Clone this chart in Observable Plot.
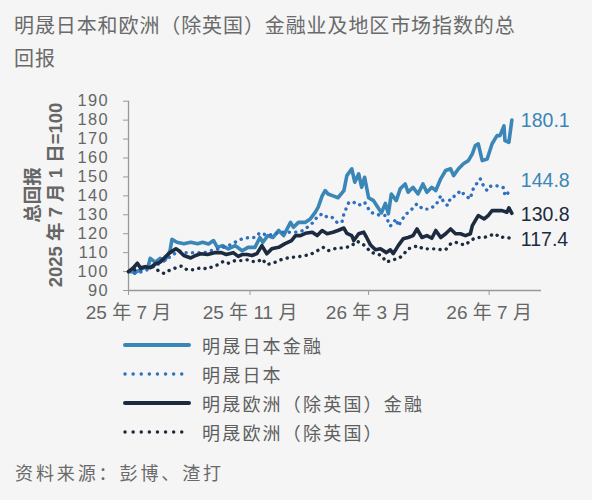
<!DOCTYPE html>
<html><head><meta charset="utf-8">
<script src="https://cdn.jsdelivr.net/npm/d3@7"></script>
<script src="https://cdn.jsdelivr.net/npm/@observablehq/plot@0.6"></script>
<style>
html,body{margin:0;padding:0;background:#f5f5f5;}
body{width:592px;height:500px;position:relative;overflow:hidden;font-family:"Liberation Sans",Arial,"Noto Sans CJK SC",sans-serif;}
#title{position:absolute;left:14px;top:8px;font-family:"Noto Sans CJK SC",sans-serif;font-size:20px;line-height:33px;color:#6a6a6a;letter-spacing:0.9px;white-space:nowrap;}
#chart{position:absolute;left:0;top:75px;}
#legend{position:absolute;left:123px;top:330px;}
.item{height:29.1px;display:flex;align-items:center;}
.item svg{display:block;}
.item span{margin-left:11px;font-family:"Noto Sans CJK SC",sans-serif;font-size:18px;letter-spacing:2.2px;color:#5e5e5e;white-space:nowrap;}
#source{position:absolute;left:15px;top:459px;font-family:"Noto Sans CJK SC",sans-serif;font-size:18px;letter-spacing:2.9px;color:#6a6a6a;white-space:nowrap;}
</style></head>
<body>
<div id="title">明晟日本和欧洲（除英国）金融业及地区市场指数的总<br>回报</div>
<div id="chart"></div>
<div id="legend"></div>
<div id="source">资料来源：彭博、渣打</div>
<script>
const seriesNames = ["明晟日本金融", "明晟日本", "明晟欧洲（除英国）金融", "明晟欧洲（除英国）"];
const endLabels = ["180.1", "144.8", "130.8", "117.4"];

const jpFinDates = ["2025-07-01","2025-07-08","2025-07-15","2025-07-21","2025-07-23","2025-07-28","2025-08-02","2025-08-07","2025-08-12","2025-08-14","2025-08-19","2025-08-26","2025-09-02","2025-09-09","2025-09-14","2025-09-20","2025-09-25","2025-09-29","2025-10-04","2025-10-10","2025-10-17","2025-10-24","2025-10-30","2025-11-06","2025-11-11","2025-11-14","2025-11-19","2025-11-24","2025-11-30","2025-12-05","2025-12-12","2025-12-15","2025-12-20","2025-12-27","2026-01-01","2026-01-06","2026-01-09","2026-01-13","2026-01-16","2026-01-19","2026-01-24","2026-01-29","2026-02-04","2026-02-07","2026-02-12","2026-02-15","2026-02-19","2026-02-22","2026-02-25","2026-03-01","2026-03-06","2026-03-09","2026-03-14","2026-03-18","2026-03-21","2026-03-24","2026-03-29","2026-04-02","2026-04-07","2026-04-10","2026-04-15","2026-04-20","2026-04-25","2026-04-29","2026-05-04","2026-05-08","2026-05-13","2026-05-18","2026-05-23","2026-05-26","2026-05-31","2026-06-05","2026-06-10","2026-06-14","2026-06-17","2026-06-20","2026-06-24","2026-06-29","2026-07-04","2026-07-09","2026-07-12","2026-07-16","2026-07-17","2026-07-21","2026-07-24"];
const jpFinValues = [100,99.6,101.5,103,107,105,107,106,111,117,115.5,114.7,115.5,114.7,115.5,114.6,116.4,112.8,113.7,112,113.7,111,112.8,112.8,118,115.5,119,118,121.7,119,126,123.4,126,126,127.8,131.3,134,140,142.8,141,140,139,142.8,150.7,154.3,147.2,151.6,144.5,149.8,139,137.5,135,131,136,130.5,141,137.5,143.7,146.3,141.9,144.5,141,146.3,141.9,144.5,142.8,149,153.4,154.3,150.7,154.3,157,158.6,162.2,166.6,167.5,158.6,159.5,167.5,171.8,171.8,177,169.2,168.3,180.1];

const jpIdxDates = ["2025-07-01","2025-07-08","2025-07-18","2025-07-28","2025-08-07","2025-08-14","2025-08-21","2025-08-28","2025-09-07","2025-09-16","2025-09-22","2025-09-30","2025-10-10","2025-10-17","2025-10-24","2025-10-31","2025-11-06","2025-11-11","2025-11-19","2025-11-26","2025-12-03","2025-12-10","2025-12-17","2025-12-25","2026-01-04","2026-01-09","2026-01-14","2026-01-18","2026-01-23","2026-01-28","2026-02-02","2026-02-04","2026-02-09","2026-02-14","2026-02-19","2026-02-25","2026-03-03","2026-03-08","2026-03-13","2026-03-18","2026-03-23","2026-03-29","2026-03-31","2026-04-07","2026-04-12","2026-04-19","2026-04-25","2026-05-01","2026-05-08","2026-05-13","2026-05-16","2026-05-20","2026-05-23","2026-05-28","2026-06-02","2026-06-07","2026-06-12","2026-06-14","2026-06-17","2026-06-22","2026-06-26","2026-06-29","2026-07-02","2026-07-07","2026-07-12","2026-07-16","2026-07-17","2026-07-21","2026-07-24"];
const jpIdxValues = [100,99,100.5,103,106,108.5,111,110,110,110,111,112,113.7,115.5,117.3,118,118,120.5,119,120,120.8,120.8,120.8,121.7,126,129.6,130.5,128.7,128.7,126,126,130.5,136.6,136.6,135,136.6,131.3,130.5,129.6,129.6,124,127.8,124,130,132,135.8,133,133,135,140,136.6,134.9,139,140,142.8,140,138.4,142.8,145.4,149,144.5,142.8,145,145.4,145,144.2,140,142,143];

const euFinDates = ["2025-07-01","2025-07-06","2025-07-10","2025-07-13","2025-07-18","2025-07-23","2025-07-28","2025-08-02","2025-08-07","2025-08-12","2025-08-18","2025-08-21","2025-08-26","2025-09-02","2025-09-07","2025-09-12","2025-09-19","2025-09-26","2025-10-03","2025-10-08","2025-10-15","2025-10-20","2025-10-24","2025-10-29","2025-11-03","2025-11-08","2025-11-13","2025-11-18","2025-11-23","2025-11-30","2025-12-06","2025-12-13","2025-12-17","2025-12-22","2025-12-27","2026-01-03","2026-01-08","2026-01-13","2026-01-18","2026-01-24","2026-01-29","2026-02-04","2026-02-07","2026-02-12","2026-02-14","2026-02-19","2026-02-24","2026-02-27","2026-03-03","2026-03-08","2026-03-13","2026-03-19","2026-03-23","2026-03-26","2026-03-31","2026-04-05","2026-04-10","2026-04-15","2026-04-19","2026-04-24","2026-04-29","2026-05-04","2026-05-08","2026-05-13","2026-05-18","2026-05-23","2026-05-28","2026-06-02","2026-06-07","2026-06-12","2026-06-14","2026-06-18","2026-06-20","2026-06-26","2026-06-30","2026-07-04","2026-07-09","2026-07-14","2026-07-19","2026-07-21","2026-07-24"];
const euFinValues = [100,102,104.4,102,102.6,102,104,105,107.6,110,112,111,108.5,107.2,108.5,109.4,109,110,110,109,110,108,109,109,108.5,109.5,113.7,109.4,112,112.8,114.6,116.4,119,119,120.2,120.8,119,121.7,120,120.8,121.7,123,120.2,119,116.4,120,120.8,118,114,111.5,112,110,111.5,109.5,113.7,117.3,118,119,122.5,118,119,117.6,121.7,118,120,122.5,120,120,119,120,124.3,127.8,129.6,127.8,129.6,132.2,132.2,132.2,131.3,133.6,130.8];

const euIdxDates = ["2025-07-01","2025-07-08","2025-07-18","2025-07-27","2025-07-31","2025-08-06","2025-08-11","2025-08-18","2025-08-24","2025-08-29","2025-09-05","2025-09-12","2025-09-19","2025-09-24","2025-09-30","2025-10-05","2025-10-10","2025-10-17","2025-10-24","2025-10-29","2025-11-04","2025-11-09","2025-11-13","2025-11-18","2025-11-24","2025-12-02","2025-12-09","2025-12-15","2025-12-22","2025-12-27","2026-01-01","2026-01-08","2026-01-14","2026-01-19","2026-01-25","2026-01-30","2026-02-05","2026-02-12","2026-02-17","2026-02-22","2026-02-27","2026-03-03","2026-03-09","2026-03-14","2026-03-19","2026-03-26","2026-03-31","2026-04-05","2026-04-10","2026-04-15","2026-04-20","2026-04-25","2026-05-01","2026-05-06","2026-05-13","2026-05-18","2026-05-23","2026-05-28","2026-06-02","2026-06-07","2026-06-12","2026-06-18","2026-06-26","2026-07-02","2026-07-07","2026-07-12","2026-07-17","2026-07-24"];
const euIdxValues = [100,101,102,103,100.5,99,100.5,102,103,101,101,102,101.4,102.6,103.7,105.4,104.4,105.8,105.8,106.2,105.3,105.3,106.7,103.7,104.4,106.2,107.2,107.6,108,108.5,109,111,112.8,111,112,112.5,112.5,113.7,116,115,112.8,110.2,109.4,108.5,105,106.3,106.7,108.8,112,112.8,113.7,112,112,112,111.6,111.6,114.6,115.5,114.6,114,116.4,118,118,119,120,118,118.3,117.4];

const yTicks = [90,100,110,120,130,140,150,160,170,180,190];
const xTickDates = ["2025-07-01","2025-11-01","2026-03-01","2026-07-01"];
const xDomain = ["2025-07-01","2026-08-23"];

// styles (not data)
const colors = ["#3a86b6", "#2e6fc2", "#1c2b40", "#1c2b40"];
const dashes = [null, "0.1 6.3", null, "0.1 6.3"];
const widths = [3.6, 3.4, 3.6, 3.4];
const labelYs = [179.8, 148.1, 130.2, 116.9];

const raw = [[jpFinDates, jpFinValues],[jpIdxDates, jpIdxValues],[euFinDates, euFinValues],[euIdxDates, euIdxValues]];
const tables = raw.map(([ds, vs], i) => ds.map((d, j) => ({date: new Date(d), value: vs[j], series: seriesNames[i]})));

const lineMarks = tables.map((t, i) => Plot.line(t, {
  x: "date", y: "value", stroke: colors[i], strokeWidth: widths[i],
  strokeDasharray: dashes[i], strokeLinecap: "round", strokeLinejoin: "round"
}));
const labelData = tables.map((t, i) => ({date: t[t.length-1].date, y: labelYs[i], text: endLabels[i], color: colors[i === 1 ? 0 : i]}));

const fmt = d => `${String(d.getUTCFullYear()).slice(2)} 年 ${d.getUTCMonth()+1} 月`;

const plot = Plot.plot({
  width: 592, height: 255,
  marginLeft: 128, marginRight: 51, marginTop: 25.7, marginBottom: 40,
  style: {background: "transparent", fontFamily: '"Liberation Sans", Arial, "Noto Sans CJK SC", sans-serif', color: "#666"},
  x: {type: "utc", domain: xDomain.map(d => new Date(d))},
  y: {domain: [90, 190]},
  marks: [
    Plot.axisY({ticks: yTicks, tickSize: 5, tickPadding: 14.5, fontSize: 16.4, stroke: "#999", fill: "#666", tickFormat: d => String(d)}),
    Plot.axisX({ticks: xTickDates.map(d => new Date(d)), tickSize: 5, tickPadding: 10, fontSize: 19, stroke: "#999", fill: "#666", tickFormat: fmt}),
    Plot.ruleY([90], {stroke: "#999", strokeWidth: 1.3}),
    Plot.ruleX([new Date(xDomain[0])], {stroke: "#999", strokeWidth: 1.3}),
    ...lineMarks,
    Plot.text(labelData, {x: "date", y: "y", text: "text", fill: "color", textAnchor: "start", dx: 9, fontSize: 19.5})
  ]
});
document.getElementById("chart").appendChild(plot);

// widen y tick labels slightly to match the reference's letter width
d3.select(plot).selectAll("[aria-label='y-axis tick label'] text").attr("letter-spacing", "1.4px");

// y-axis title
const svg = d3.select(plot);
const ylab = [["总回报", 32], ["2025 年 7 月 1 日=100", 55]];
ylab.forEach(([t, x]) => {
  svg.append("text").text(t)
    .attr("transform", `translate(${x},120) rotate(-90)`)
    .attr("text-anchor", "middle").attr("dy", "0.36em")
    .attr("font-weight", "bold").attr("font-size", 18.5).attr("fill", "#666")
    .attr("font-family", '"Liberation Sans", Arial, "Noto Sans CJK SC", sans-serif');
});

// legend
const leg = d3.select("#legend");
seriesNames.forEach((name, i) => {
  const it = leg.append("div").attr("class", "item");
  const s = it.append("svg").attr("width", 68).attr("height", 10);
  s.append("line").attr("x1", 2).attr("x2", 66).attr("y1", 5).attr("y2", 5)
    .attr("stroke", colors[i]).attr("stroke-width", dashes[i] ? 3.4 : 4)
    .attr("stroke-linecap", "round")
    .attr("stroke-dasharray", dashes[i] ? "0.1 8" : null);
  it.append("span").text(name);
});
</script>
</body></html>
